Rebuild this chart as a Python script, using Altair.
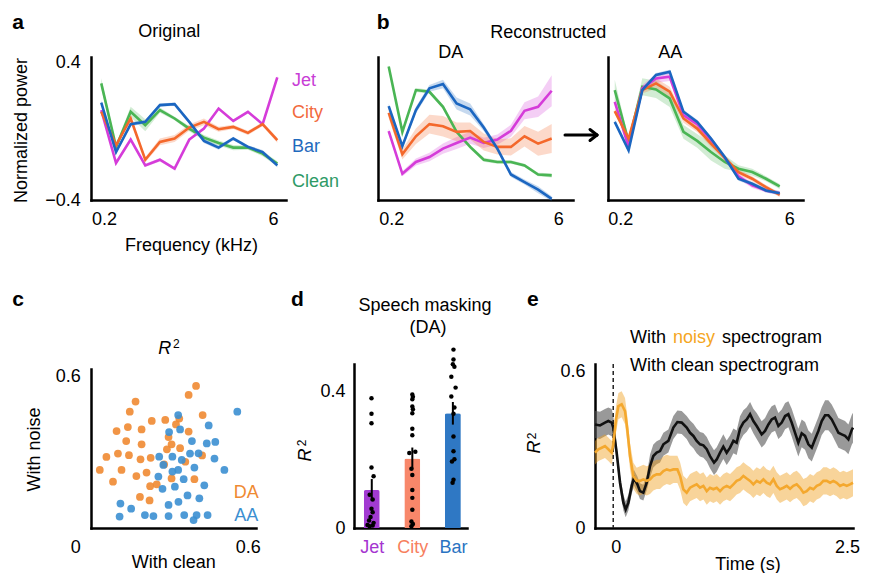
import json
import altair as alt
import pandas as pd

FONT = "Liberation Sans"
one = pd.DataFrame({"k": [0]})

# ---------------- panels a / b : spectra ----------------
freqs = [0.2, 0.266, 0.353, 0.468, 0.621, 0.825, 1.095, 1.454, 1.931, 2.563, 3.403, 4.519, 6.0]
series_names = ["Clean", "Jet", "City", "Bar"]
line_colors = ["#4ab554", "#d53cd9", "#f4682b", "#1b66c1"]
legend_colors = ["#2e9a66", "#c83dd6", "#f26a3d", "#1f6abd"]

orig_clean = [0.281, -0.090, 0.115, 0.037, 0.125, 0.076, 0.017, -0.036, -0.067, -0.094, -0.094, -0.129, -0.188]
orig_jet = [0.125, -0.184, -0.047, -0.198, -0.165, -0.217, -0.047, 0.017, 0.134, 0.062, 0.115, 0.043, 0.316]
orig_city = [0.115, -0.081, 0.076, -0.165, -0.061, -0.041, 0.023, 0.056, 0.013, 0.027, -0.008, 0.043, -0.051]
orig_bar = [0.168, -0.120, 0.043, 0.056, 0.154, 0.160, 0.056, -0.055, -0.094, -0.041, -0.090, -0.120, -0.198]
orig_clean_sem = [0.03, 0.015, 0.03, 0.035, 0.015, 0.01, 0.015, 0.015, 0.015, 0.015, 0.012, 0.015, 0.015]
orig_jet_sem = [0.01, 0.01, 0.01, 0.01, 0.01, 0.008, 0.008, 0.008, 0.008, 0.008, 0.008, 0.008, 0.01]
orig_city_sem = [0.012, 0.012, 0.012, 0.015, 0.02, 0.02, 0.018, 0.02, 0.015, 0.012, 0.012, 0.012, 0.015]
orig_bar_sem = [0.015, 0.012, 0.012, 0.01, 0.01, 0.01, 0.01, 0.012, 0.012, 0.01, 0.01, 0.012, 0.012]

da_clean = [0.379, -0.002, 0.242, 0.232, 0.144, -0.002, -0.090, -0.165, -0.178, -0.178, -0.198, -0.251, -0.256]
da_jet = [0.002, -0.247, -0.178, -0.149, -0.100, -0.067, -0.036, -0.067, -0.047, 0.004, 0.121, 0.144, 0.238]
da_city = [0.109, -0.133, -0.028, 0.043, 0.031, -0.002, 0.003, -0.061, -0.090, -0.090, -0.028, -0.071, -0.041]
da_bar = [0.148, -0.086, 0.125, 0.252, 0.277, 0.164, 0.129, 0.023, -0.100, -0.251, -0.295, -0.340, -0.393]
da_clean_sem = [0.01, 0.01, 0.012, 0.012, 0.012, 0.012, 0.012, 0.012, 0.01, 0.01, 0.01, 0.01, 0.012]
da_jet_sem = [0.015, 0.015, 0.02, 0.025, 0.03, 0.035, 0.035, 0.03, 0.03, 0.035, 0.05, 0.06, 0.09]
da_city_sem = [0.03, 0.03, 0.045, 0.055, 0.06, 0.055, 0.05, 0.05, 0.045, 0.05, 0.06, 0.07, 0.085]
da_bar_sem = [0.015, 0.015, 0.02, 0.02, 0.025, 0.035, 0.035, 0.02, 0.015, 0.015, 0.015, 0.02, 0.015]

aa_clean = [0.242, -0.061, 0.261, 0.246, 0.193, -0.002, -0.055, -0.120, -0.178, -0.217, -0.237, -0.276, -0.321]
aa_jet = [0.173, -0.090, 0.252, 0.310, 0.320, 0.095, 0.043, -0.051, -0.153, -0.262, -0.315, -0.344, -0.360]
aa_city = [0.119, -0.041, 0.242, 0.281, 0.232, 0.076, 0.017, -0.071, -0.153, -0.237, -0.276, -0.325, -0.370]
aa_bar = [0.056, -0.110, 0.242, 0.330, 0.349, 0.115, 0.056, -0.041, -0.149, -0.276, -0.305, -0.344, -0.360]
aa_clean_sem = [0.06, 0.02, 0.05, 0.05, 0.05, 0.04, 0.04, 0.05, 0.04, 0.02, 0.02, 0.015, 0.015]
aa_jet_sem = [0.015, 0.015, 0.02, 0.025, 0.025, 0.02, 0.02, 0.02, 0.015, 0.015, 0.015, 0.012, 0.01]
aa_city_sem = [0.015, 0.015, 0.02, 0.03, 0.03, 0.025, 0.02, 0.02, 0.015, 0.015, 0.015, 0.012, 0.012]
aa_bar_sem = [0.012] * 13

# ---------------- panel c : scatter ----------------
da_x = [0.382, 0.355, 0.162, 0.141, 0.406, 0.221, 0.270, 0.321, 0.309, 0.093, 0.134, 0.184, 0.355,
        0.282, 0.128, 0.184, 0.293, 0.276, 0.324, 0.056, 0.098, 0.138, 0.180, 0.217, 0.343, 0.404,
        0.032, 0.111, 0.202, 0.165, 0.266, 0.293, 0.376, 0.080, 0.215, 0.239, 0.178, 0.213]
da_y = [0.536, 0.502, 0.477, 0.439, 0.426, 0.404, 0.408, 0.413, 0.391, 0.366, 0.381, 0.372, 0.364,
        0.343, 0.328, 0.316, 0.316, 0.297, 0.301, 0.268, 0.281, 0.275, 0.259, 0.265, 0.250, 0.274,
        0.219, 0.219, 0.209, 0.196, 0.240, 0.187, 0.184, 0.175, 0.158, 0.165, 0.117, 0.104]
aa_x = [0.532, 0.317, 0.428, 0.324, 0.284, 0.367, 0.421, 0.452, 0.360, 0.391, 0.296, 0.330, 0.248,
        0.449, 0.263, 0.376, 0.317, 0.296, 0.485, 0.245, 0.337, 0.260, 0.305, 0.412, 0.351, 0.394,
        0.318, 0.282, 0.107, 0.146, 0.104, 0.196, 0.227, 0.282, 0.339, 0.384, 0.424, 0.373]
aa_y = [0.439, 0.426, 0.387, 0.372, 0.362, 0.328, 0.319, 0.325, 0.281, 0.282, 0.269, 0.257, 0.269,
        0.262, 0.238, 0.228, 0.219, 0.213, 0.219, 0.194, 0.184, 0.148, 0.156, 0.161, 0.123, 0.112,
        0.099, 0.087, 0.092, 0.073, 0.043, 0.049, 0.045, 0.045, 0.049, 0.049, 0.049, 0.030]
c_da, c_aa = "#ef8a32", "#3b8fd1"

# ---------------- panel d : bars ----------------
cats = ["Jet", "City", "Bar"]
bar_colors = ["#a23ad2", "#f8876a", "#2f78c4"]
cat_text_colors = ["#a535d0", "#f7805e", "#2a74c2"]
bar_means = [0.111, 0.203, 0.335]
bar_sems = [0.032, 0.032, 0.033]
jet_dots = [0.379, 0.334, 0.306, 0.177, 0.151, 0.097, 0.083, 0.056, 0.046, 0.032, 0.022, 0.015, 0.009, 0.007, 0.005]
jet_jit = [-0.007, -0.007, -0.007, -0.007, 0.045, -0.052, 0.022, -0.007, 0.022, -0.03, -0.067, 0.045, -0.105, 0.022, -0.052]
city_dots = [0.390, 0.383, 0.376, 0.355, 0.347, 0.335, 0.290, 0.271, 0.219, 0.223, 0.173, 0.155, 0.111, 0.088, 0.053, 0.019, 0.012, 0.005]
city_jit = [0.0, 0.015, 0.0, 0.0, 0.015, 0.0, 0.0, 0.0, -0.074, 0.074, -0.022, 0.0, 0.0, 0.0, 0.0, -0.022, 0.015, -0.022]
bar_dots = [0.521, 0.492, 0.478, 0.471, 0.442, 0.410, 0.384, 0.352, 0.334, 0.267, 0.224, 0.201, 0.194, 0.141, 0.132]
bar_jit = [0.015, 0.015, 0.0, 0.038, -0.038, 0.067, -0.038, 0.038, 0.015, 0.015, 0.015, 0.038, -0.022, 0.015, -0.007]

# ---------------- panel e : time courses ----------------
clean_t = [-0.190, -0.138, -0.086, -0.051, -0.016, 0.001,
           0.036, 0.071, 0.106, 0.130, 0.158, 0.193, 0.217, 0.252, 0.279, 0.314, 0.349,
           0.384, 0.418, 0.453, 0.488, 0.523, 0.575, 0.627, 0.669, 0.714, 0.766,
           0.801, 0.836, 0.870, 0.905, 0.940, 0.975, 1.009, 1.051, 1.079, 1.114,
           1.148, 1.183, 1.218, 1.253, 1.287, 1.322, 1.357, 1.392, 1.427, 1.461,
           1.496, 1.548, 1.583, 1.618, 1.652, 1.687, 1.722, 1.757, 1.792, 1.826,
           1.861, 1.896, 1.930, 1.965, 2.000, 2.035, 2.070, 2.104, 2.139, 2.174,
           2.209, 2.243, 2.278, 2.313, 2.348, 2.382, 2.417, 2.452, 2.487, 2.500]
clean_r2 = [0.396, 0.392, 0.403, 0.409, 0.403, 0.384,
            0.288, 0.173, 0.097, 0.071, 0.097, 0.161, 0.192, 0.167, 0.141, 0.135, 0.173,
            0.237, 0.275, 0.288, 0.294, 0.320, 0.333, 0.384, 0.405, 0.403, 0.384,
            0.364, 0.352, 0.333, 0.320, 0.316, 0.301, 0.275, 0.250, 0.262, 0.288,
            0.311, 0.288, 0.307, 0.333, 0.326, 0.380, 0.403, 0.415, 0.435, 0.409,
            0.390, 0.358, 0.371, 0.396, 0.415, 0.422, 0.390, 0.403, 0.428, 0.435,
            0.403, 0.364, 0.326, 0.362, 0.352, 0.320, 0.307, 0.339, 0.371, 0.409,
            0.431, 0.431, 0.415, 0.390, 0.364, 0.358, 0.352, 0.339, 0.375, 0.384]
clean_sem = ([0.052] * 5 + [0.045] + [0.03] * 11 + [0.044] * 10 + [0.047] * 10 +
             [0.047] * 10 + [0.05] * 10 + [0.053] * 10 + [0.057] * 10)
noisy_t = [-0.190, -0.155, -0.120, -0.086, -0.051, -0.016, 0.001,
           0.029, 0.054, 0.088, 0.123, 0.147, 0.175, 0.210, 0.245,
           0.279, 0.314, 0.349, 0.384, 0.418, 0.453, 0.488, 0.523, 0.558, 0.592,
           0.627, 0.669, 0.697, 0.731, 0.766, 0.801, 0.836, 0.870, 0.905, 0.940,
           0.975, 1.009, 1.044, 1.079, 1.114, 1.148, 1.183, 1.218, 1.253, 1.287,
           1.322, 1.357, 1.392, 1.427, 1.461, 1.496, 1.531, 1.566, 1.600, 1.635,
           1.670, 1.705, 1.739, 1.774, 1.809, 1.844, 1.878, 1.913, 1.948, 1.983,
           2.017, 2.052, 2.087, 2.122, 2.156, 2.191, 2.226, 2.261, 2.296, 2.330,
           2.365, 2.400, 2.435, 2.469, 2.500]
noisy_r2 = [0.288, 0.301, 0.307, 0.313, 0.301, 0.288, 0.320,
            0.415, 0.466, 0.473, 0.447, 0.377, 0.275, 0.199, 0.180,
            0.180, 0.186, 0.180, 0.186, 0.199, 0.205, 0.205, 0.218, 0.224, 0.220,
            0.224, 0.224, 0.199, 0.148, 0.135, 0.154, 0.161, 0.167, 0.154, 0.161,
            0.141, 0.154, 0.148, 0.154, 0.141, 0.154, 0.161, 0.154, 0.167, 0.180,
            0.186, 0.199, 0.189, 0.180, 0.167, 0.180, 0.173, 0.186, 0.173, 0.167,
            0.186, 0.161, 0.148, 0.154, 0.161, 0.150, 0.161, 0.167, 0.154, 0.135,
            0.141, 0.154, 0.148, 0.161, 0.167, 0.180, 0.180, 0.173, 0.180, 0.173,
            0.161, 0.167, 0.161, 0.167, 0.173]
noisy_sem = [0.045] * 7 + [0.05] * 8 + [0.056] * 10 + [0.052] * 10 + [0.052] * 45


# ---------------- helpers ----------------
def txt(s, x, y, size=18, color="black", align="center", baseline="middle",
        weight="normal", style="normal", angle=0):
    mk = dict(text=s, align=align, baseline=baseline, fontSize=size, color=color,
              fontWeight=weight, fontStyle=style, font=FONT)
    if angle:
        mk["angle"] = angle
    return alt.Chart(one).mark_text(**mk).encode(x=alt.value(x), y=alt.value(y))


def letter(s, x, y):
    return txt(s, x, y, size=21, weight="bold", align="left", baseline="alphabetic")


def seg(x1, y1, x2, y2, w=3):
    return alt.Chart(one).mark_rule(color="black", strokeWidth=w, strokeCap="round").encode(
        x=alt.value(x1), y=alt.value(y1), x2=alt.value(x2), y2=alt.value(y2))


def spacer(w, h):
    return alt.Chart(one).mark_point(opacity=0).properties(width=w, height=h)


W1, H1 = 195, 143
H2 = 164


def spectrum(vals, sems, xdom, off_lo, off_hi, first, extra):
    rows = []
    for name, col, v, s in zip(series_names, line_colors, vals, sems):
        for f, vv, ss in zip(freqs, v, s):
            rows.append(dict(freq=f, series=name, col=col, value=vv, lo=vv - ss, hi=vv + ss))
    df = pd.DataFrame(rows)
    xa = dict(values=[0.2, 6], format="~g", labelPadding=10.5,
              labelOffset={"condition": {"test": "datum.value < 1", "value": off_lo}, "value": off_hi})
    if first:
        xa.update(title="Frequency (kHz)", titleX=100, titleY=45, titleBaseline="middle", titleAlign="center")
        ya = alt.Axis(values=[-0.4, 0.4], format=".1~f", labelPadding=10.7, title="Normalized power",
                      titleX=-69.7, titleY=73, titleAngle=270, titleBaseline="middle", titleAlign="center")
    else:
        xa.update(title=None)
        ya = alt.Axis(labels=False, title=None)
    xaxis = alt.Axis(**xa)
    xs = alt.Scale(type="log", domain=xdom, nice=False)
    ys = alt.Scale(domain=[-0.4, 0.435], nice=False, zero=False)
    color = alt.Color("col:N", scale=None)
    band = alt.Chart(df).mark_area(opacity=0.25).encode(
        x=alt.X("freq:Q", scale=xs, axis=xaxis),
        y=alt.Y("lo:Q", scale=ys, axis=ya), y2="hi:Q", color=color)
    line = alt.Chart(df).mark_line(strokeWidth=2.6).encode(
        x=alt.X("freq:Q", scale=xs, axis=xaxis),
        y=alt.Y("value:Q", scale=ys, axis=ya), color=color)
    return alt.layer(band, line, *extra).properties(width=W1, height=H1)


# ---------------- panel a ----------------
a_extra = [letter("a", -78.7, -28), txt("Original", 78.3, -25)]
for name, col, yy in zip(["Jet", "City", "Bar", "Clean"],
                         [legend_colors[1], legend_colors[2], legend_colors[3], legend_colors[0]],
                         [23.7, 56, 89.7, 124.7]):
    a_extra.append(txt(name, 201, yy, color=col, align="left"))
panel_a = spectrum([orig_clean, orig_jet, orig_city, orig_bar],
                   [orig_clean_sem, orig_jet_sem, orig_city_sem, orig_bar_sem],
                   [0.164, 7.10], 2.7, -4.3, True, a_extra)

# ---------------- panel b ----------------
bda_extra = [letter("b", -1.2, -28), txt("Reconstructed", 170.3, -24), txt("DA", 72.8, -4.5),
             seg(187, 78, 219, 78), seg(219, 78, 212, 72.5), seg(219, 78, 212, 83.5)]
panel_bda = spectrum([da_clean, da_jet, da_city, da_bar],
                     [da_clean_sem, da_jet_sem, da_city_sem, da_bar_sem],
                     [0.160, 9.36], 2.6, 6.6, False, bda_extra)
panel_baa = spectrum([aa_clean, aa_jet, aa_city, aa_bar],
                     [aa_clean_sem, aa_jet_sem, aa_city_sem, aa_bar_sem],
                     [0.174, 9.70], 5.6, 9.6, False, [txt("AA", 62.3, -4)])

# ---------------- panel c ----------------
dfc = pd.DataFrame({"clean": da_x + aa_x, "noise": da_y + aa_y,
                    "col": [c_da] * len(da_x) + [c_aa] * len(aa_x)})
scat = alt.Chart(dfc).mark_circle(size=60, opacity=0.9).encode(
    x=alt.X("clean:Q", scale=alt.Scale(domain=[0, 0.6], nice=False, zero=False),
            axis=alt.Axis(values=[0, 0.6], format=".1~f", labelPadding=10.5,
                          labelOffset={"condition": {"test": "datum.value == 0", "value": -15.7}, "value": -8.2},
                          title="With clean", titleX=82.3, titleY=34, titleBaseline="middle", titleAlign="center")),
    y=alt.Y("noise:Q", scale=alt.Scale(domain=[0, 0.6], range=[H2, 5], nice=False, zero=False),
            axis=alt.Axis(values=[0.6], format=".1~f", labelPadding=10.7, labelOffset=7,
                          title="With noise", titleX=-56.2, titleY=85, titleAngle=270,
                          titleBaseline="middle", titleAlign="center")),
    color=alt.Color("col:N", scale=None))
panel_c = alt.layer(
    scat, letter("c", -78.7, -58),
    txt("R", 73.8, -15, style="italic"), txt("2", 85.3, -20, size=12),
    txt("DA", 155.3, 129, color=c_da), txt("AA", 155.3, 152, color=c_aa),
).properties(width=165, height=H2)

# ---------------- panel d ----------------
dfbar = pd.DataFrame({"cat": cats, "pos": list(range(len(cats))), "mean": bar_means, "col": bar_colors,
                      "lo": [m - s for m, s in zip(bar_means, bar_sems)],
                      "hi": [m + s for m, s in zip(bar_means, bar_sems)]})
dot_rows = []
for i, (vals, jit) in enumerate([(jet_dots, jet_jit), (city_dots, city_jit), (bar_dots, bar_jit)]):
    for v, j in zip(vals, jit):
        dot_rows.append({"cat": cats[i], "xp": i + j, "v": v})
dfdots = pd.DataFrame(dot_rows)
dxs = alt.Scale(domain=[-0.315, 2.225], nice=False, zero=False)
dys = alt.Scale(domain=[0, 0.479], nice=False)
dxaxis = alt.Axis(values=[0, 1, 2], labelExpr=json.dumps(cats) + "[datum.value]", labelPadding=10,
                  labelColor={"condition": [{"test": "datum.value == 0", "value": cat_text_colors[0]},
                                            {"test": "datum.value == 1", "value": cat_text_colors[1]}],
                              "value": cat_text_colors[2]},
                  title=None)
dyaxis = alt.Axis(values=[0, 0.4], format=".1~f", labelPadding=9, title=None)
bars = alt.Chart(dfbar).mark_bar(size=16, cornerRadiusEnd=2).encode(
    x=alt.X("pos:Q", scale=dxs, axis=dxaxis),
    y=alt.Y("mean:Q", scale=dys, axis=dyaxis),
    color=alt.Color("col:N", scale=None))
errs = alt.Chart(dfbar).mark_rule(color="black", strokeWidth=2).encode(
    x=alt.X("pos:Q", scale=dxs, axis=dxaxis),
    y=alt.Y("lo:Q", scale=dys, axis=dyaxis), y2="hi:Q")
dots = alt.Chart(dfdots).mark_circle(size=20, color="black", opacity=1).encode(
    x=alt.X("xp:Q", scale=dxs, axis=dxaxis),
    y=alt.Y("v:Q", scale=dys, axis=dyaxis))
panel_d = alt.layer(
    bars, errs, dots, letter("d", -63, -58),
    txt("Speech masking", 71, -58), txt("(DA)", 74, -36),
    txt("R", -48.5, 91, style="italic", angle=270), txt("2", -52, 79, size=12, angle=270),
).properties(width=113, height=H2)

# ---------------- panel e ----------------
dfk = pd.DataFrame({"t": clean_t, "v": clean_r2,
                    "lo": [v - s for v, s in zip(clean_r2, clean_sem)],
                    "hi": [v + s for v, s in zip(clean_r2, clean_sem)]})
dfo = pd.DataFrame({"t": noisy_t, "v": noisy_r2,
                    "lo": [v - s for v, s in zip(noisy_r2, noisy_sem)],
                    "hi": [v + s for v, s in zip(noisy_r2, noisy_sem)]})
exs = alt.Scale(domain=[-0.19, 2.5], nice=False, zero=False)
eys = alt.Scale(domain=[0, 0.627], nice=False)
exaxis = alt.Axis(values=[0, 2.5], format=".1~f", labelPadding=10.5,
                  labelOffset={"condition": {"test": "datum.value == 0", "value": 2.5}, "value": -6},
                  title="Time (s)", titleX=152.5, titleY=36, titleBaseline="middle", titleAlign="center")
eyaxis = alt.Axis(values=[0, 0.6], format=".1~f", labelPadding=10, title=None)
ex = alt.X("t:Q", scale=exs, axis=exaxis)
band_k = alt.Chart(dfk).mark_area(color="#555555", opacity=0.6).encode(
    x=ex, y=alt.Y("lo:Q", scale=eys, axis=eyaxis), y2="hi:Q")
band_o = alt.Chart(dfo).mark_area(color="#f0a020", opacity=0.45).encode(
    x=ex, y=alt.Y("lo:Q", scale=eys, axis=eyaxis), y2="hi:Q")
zero_rule = alt.Chart(pd.DataFrame({"t": [0.0]})).mark_rule(
    color="#222222", strokeWidth=1.5, strokeDash=[4, 3]).encode(x=ex)
line_k = alt.Chart(dfk).mark_line(color="#111111", strokeWidth=2.6).encode(
    x=ex, y=alt.Y("v:Q", scale=eys, axis=eyaxis))
line_o = alt.Chart(dfo).mark_line(color="#f4a82e", strokeWidth=2.6).encode(
    x=ex, y=alt.Y("v:Q", scale=eys, axis=eyaxis))
panel_e = alt.layer(
    band_k, band_o, zero_rule, line_k, line_o, letter("e", -68, -58),
    txt("With", 35, -26, align="left"), txt("noisy", 78, -26, align="left", color="#f5a623"),
    txt("spectrogram", 127, -26, align="left"),
    txt("With clean spectrogram", 35, 2, align="left"),
    txt("R", -60, 83, style="italic", angle=270), txt("2", -63.5, 72, size=12, angle=270),
).properties(width=258, height=H2)

row1 = alt.hconcat(panel_a, spacer(62, H1), panel_bda, spacer(5, H1), panel_baa,
                   spacing=15, bounds="flush")
row2 = alt.hconcat(panel_c, spacer(68, H2), panel_d, spacer(98, H2), panel_e,
                   spacing=15, bounds="flush")

chart = alt.vconcat(row1, row2, spacing=35, bounds="full").properties(
    padding={"left": 4, "top": 4, "right": 0, "bottom": 0}
).configure(font=FONT).configure_view(stroke=None).configure_axis(
    domainColor="black", domainWidth=2.5, domainCap="square", ticks=False, tickSize=0, grid=False,
    labelFlush=False, labelFontSize=18, labelColor="black", labelFont=FONT,
    titleFontSize=18, titleFontWeight="normal", titleColor="black", titleFont=FONT,
)

chart.save("out.html", embed_options={"renderer": "svg", "actions": False})
